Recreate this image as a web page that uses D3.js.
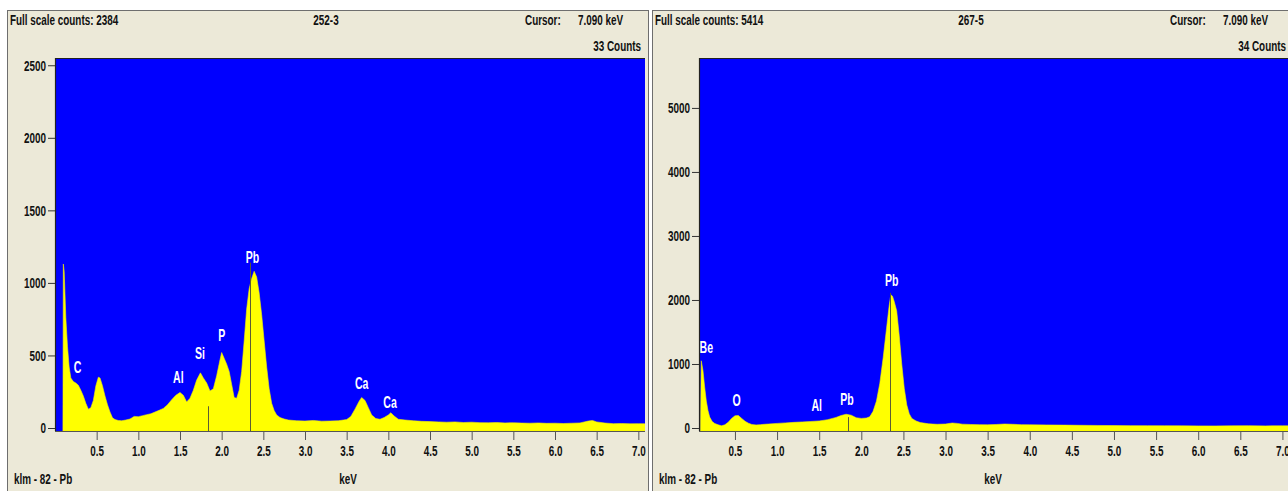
<!DOCTYPE html>
<html>
<head>
<meta charset="utf-8">
<script src="https://cdn.jsdelivr.net/npm/d3@7/dist/d3.min.js"></script>
<style>
  body { margin: 0; background: #fff; }
  svg text { font-family: "Liberation Sans", Arial, sans-serif; font-weight: bold; }
</style>
</head>
<body>
<svg id="chart" width="1288" height="491"></svg>
<script>
// ---- data ----
// left spectrum 252-3 : [keV, counts]
var spec252 = [
  [0.095, 0], [0.10, 1130], [0.11, 1080], [0.13, 760], [0.15, 560], [0.17, 420], [0.19, 345],
  [0.22, 320], [0.25, 310], [0.28, 295], [0.31, 260], [0.34, 220], [0.37, 170], [0.40, 130],
  [0.43, 140], [0.46, 190], [0.49, 290], [0.52, 350], [0.54, 345], [0.57, 290], [0.60, 220],
  [0.63, 160], [0.66, 110], [0.69, 70], [0.72, 58], [0.76, 52], [0.80, 50], [0.85, 55],
  [0.90, 62], [0.95, 80], [1.00, 78], [1.05, 85], [1.10, 92], [1.15, 98], [1.20, 110],
  [1.25, 122], [1.30, 135], [1.35, 160], [1.40, 195], [1.45, 225], [1.50, 245], [1.54, 225],
  [1.58, 180], [1.62, 205], [1.66, 260], [1.70, 330], [1.745, 380], [1.78, 345], [1.82, 310],
  [1.86, 255], [1.90, 270], [1.94, 360], [1.98, 470], [2.00, 520], [2.03, 480], [2.06, 440],
  [2.09, 390], [2.12, 300], [2.15, 210], [2.18, 205], [2.21, 260], [2.24, 390], [2.27, 600],
  [2.30, 820], [2.33, 960], [2.36, 1030], [2.39, 1080], [2.42, 1040], [2.45, 930], [2.48, 780],
  [2.51, 600], [2.54, 420], [2.57, 270], [2.60, 170], [2.63, 120], [2.66, 90], [2.70, 72],
  [2.75, 62], [2.80, 55], [2.90, 50], [3.00, 48], [3.10, 52], [3.20, 47], [3.30, 48],
  [3.40, 50], [3.50, 58], [3.55, 80], [3.60, 130], [3.65, 185], [3.68, 210], [3.72, 190],
  [3.76, 140], [3.80, 90], [3.85, 65], [3.90, 60], [3.95, 72], [4.00, 90], [4.03, 105],
  [4.07, 82], [4.12, 60], [4.20, 55], [4.30, 50], [4.40, 46], [4.50, 44], [4.60, 42],
  [4.70, 40], [4.80, 42], [4.90, 38], [5.00, 40], [5.10, 37], [5.20, 36], [5.30, 38],
  [5.40, 35], [5.50, 36], [5.60, 34], [5.70, 33], [5.80, 35], [5.90, 32], [6.00, 33],
  [6.10, 31], [6.20, 33], [6.30, 35], [6.40, 48], [6.45, 52], [6.50, 42], [6.60, 34],
  [6.70, 30], [6.80, 31], [6.90, 29], [7.00, 30], [7.09, 29]
];
// right spectrum 267-5 : [keV, counts]
var spec267 = [
  [0.09, 0], [0.10, 1050], [0.12, 900], [0.14, 640], [0.16, 420], [0.18, 270], [0.20, 170],
  [0.23, 100], [0.26, 70], [0.30, 50], [0.34, 35], [0.38, 50], [0.42, 90], [0.46, 150],
  [0.50, 190], [0.54, 195], [0.58, 150], [0.62, 105], [0.66, 75], [0.70, 55], [0.75, 48],
  [0.80, 52], [0.85, 58], [0.90, 62], [1.00, 72], [1.10, 80], [1.20, 88], [1.30, 95],
  [1.40, 102], [1.50, 110], [1.60, 130], [1.70, 165], [1.76, 195], [1.82, 215], [1.88, 200],
  [1.94, 160], [2.00, 150], [2.06, 155], [2.10, 175], [2.14, 260], [2.18, 420], [2.22, 700],
  [2.26, 1100], [2.30, 1560], [2.33, 1900], [2.35, 2080], [2.37, 2060], [2.39, 1980],
  [2.42, 1830], [2.45, 1450], [2.48, 1000], [2.51, 620], [2.54, 360], [2.57, 220], [2.60, 150],
  [2.65, 110], [2.70, 85], [2.80, 65], [2.90, 58], [3.00, 62], [3.08, 78], [3.14, 72],
  [3.20, 60], [3.30, 55], [3.40, 52], [3.50, 50], [3.60, 55], [3.70, 62], [3.80, 58],
  [3.90, 52], [4.00, 50], [4.20, 48], [4.40, 45], [4.60, 42], [4.80, 40], [5.00, 38],
  [5.20, 37], [5.40, 36], [5.60, 35], [5.80, 34], [6.00, 33], [6.20, 32], [6.40, 34],
  [6.60, 36], [6.80, 33], [7.00, 34], [7.10, 33]
];

// element labels: name, keV, counts (label baseline)
var peaks252 = [
  ["C", 0.27, 379], ["Al", 1.48, 310], ["Si", 1.74, 476], ["P", 2.00, 600],
  ["Pb", 2.37, 1137], ["Ca", 3.68, 269], ["Ca", 4.02, 138]
];
var peaks267 = [
  ["Be", 0.16, 1170], ["O", 0.52, 344], ["Al", 1.47, 265], ["Pb", 1.83, 359], ["Pb", 2.36, 2224]
];
// marker lines: keV, top counts
var markers252 = [[1.84, 150], [2.342, 1140]];
var markers267 = [[1.84, 170], [2.342, 2110]];

var xTicks = [0.5, 1.0, 1.5, 2.0, 2.5, 3.0, 3.5, 4.0, 4.5, 5.0, 5.5, 6.0, 6.5, 7.0];
var yTicks252 = [0, 500, 1000, 1500, 2000, 2500];
var yTicks267 = [0, 1000, 2000, 3000, 4000, 5000];

var SX = 0.66; // narrow font look
var svg = d3.select("#chart");

function drawPanel(p) {
  var g = svg.append("g");

  // panel frame
  g.append("rect")
    .attr("x", p.left + 0.5).attr("y", 10.5)
    .attr("width", p.width).attr("height", 500)
    .attr("fill", "#ece9d8")
    .attr("stroke", "#6e6e6e");

  var x = d3.scaleLinear().domain(p.xDomain).range([p.plotL, p.plotR]);
  var y = d3.scaleLinear().domain([0, p.yMax]).range([428, 58]);

  var clipId = "clip" + p.id;
  g.append("clipPath").attr("id", clipId)
    .append("rect")
    .attr("x", p.plotL).attr("y", 58)
    .attr("width", p.plotR - p.plotL).attr("height", 373);

  g.append("rect")
    .attr("x", p.plotL).attr("y", 58)
    .attr("width", p.plotR - p.plotL).attr("height", 373)
    .attr("fill", "#0000ff");

  var area = d3.area()
    .x(function(d) { return x(d[0]); })
    .y0(431)
    .y1(function(d) { return y(d[1]); });

  var plot = g.append("g").attr("clip-path", "url(#" + clipId + ")");
  plot.append("path")
    .datum(p.spec)
    .attr("d", area)
    .attr("fill", "#ffff00")
    .attr("stroke", "#f2f200")
    .attr("stroke-width", 0.6);

  plot.selectAll("line.marker")
    .data(p.markers)
    .enter().append("line")
    .attr("class", "marker")
    .attr("x1", function(d) { return Math.round(x(d[0])) + 0.5; })
    .attr("x2", function(d) { return Math.round(x(d[0])) + 0.5; })
    .attr("y1", function(d) { return y(d[1]); })
    .attr("y2", 431)
    .attr("stroke", "#5c5c34")
    .attr("stroke-width", 1);

  plot.selectAll("text.peak")
    .data(p.peaks)
    .enter().append("text")
    .attr("class", "peak")
    .attr("transform", function(d) {
      return "translate(" + x(d[1]) + "," + y(d[2]) + ")scale(" + SX + ",1)";
    })
    .attr("text-anchor", "middle")
    .attr("fill", "#ffffff")
    .style("font-size", "16px")
    .text(function(d) { return d[0]; });

  // plot border: dark on top/left
  g.append("path")
    .attr("d", "M" + (p.plotL + 0.5) + ",431 V58.5 H" + p.plotR)
    .attr("fill", "none").attr("stroke", "#222").attr("stroke-width", 1.2);
  g.append("path")
    .attr("d", "M" + (p.plotL) + ",431.5 H" + p.plotR)
    .attr("fill", "none").attr("stroke", "#555");

  // axes
  var yAxis = d3.axisLeft(y).tickValues(p.yTicks).tickSize(7).tickPadding(2).tickFormat(d3.format("d"));
  var ya = g.append("g").attr("transform", "translate(" + p.plotL + ",0)").call(yAxis);
  ya.select(".domain").remove();
  ya.selectAll("line").attr("stroke", "#333");
  ya.selectAll("text")
    .attr("x", -9 / SX)
    .attr("transform", "scale(" + SX + ",1)")
    .attr("fill", "#111").style("font-size", "15px");

  var xAxis = d3.axisBottom(x).tickValues(xTicks).tickSize(9).tickPadding(5).tickFormat(d3.format(".1f"));
  var xa = g.append("g").attr("transform", "translate(0,431)").call(xAxis);
  xa.select(".domain").remove();
  xa.selectAll("line").attr("stroke", "#555");
  xa.selectAll("text")
    .attr("transform", "scale(" + SX + ",1)")
    .attr("fill", "#111").style("font-size", "15px");

  // header and footer text
  var t = [
    [p.left + 3, 25, "start", "Full scale counts: " + p.fullScale],
    [p.titleX, 25, "middle", p.title],
    [p.left + 518, 25, "start", "Cursor:"],
    [p.left + 571, 25, "start", "7.090 keV"],
    [p.left + 634, 51, "end", p.cursorCounts + " Counts"],
    [p.left + 7, 484, "start", "klm - 82 - Pb"],
    [p.left + 341, 484, "middle", "keV"]
  ];
  g.selectAll("text.lbl")
    .data(t)
    .enter().append("text")
    .attr("class", "lbl")
    .attr("transform", function(d) { return "translate(" + d[0] + "," + d[1] + ")scale(" + SX + ",1)"; })
    .attr("text-anchor", function(d) { return d[2]; })
    .attr("fill", "#111")
    .style("font-size", "15px")
    .text(function(d) { return d[3]; });
}

drawPanel({
  id: "a", left: 7, width: 641, plotL: 55, plotR: 645, xDomain: [0, 7.08], yMax: 2550,
  spec: spec252, peaks: peaks252, markers: markers252, yTicks: yTicks252,
  fullScale: 2384, title: "252-3", titleX: 326, cursorCounts: 33
});
drawPanel({
  id: "b", left: 652, width: 660, plotL: 699, plotR: 1290, xDomain: [0.073, 7.09], yMax: 5780,
  spec: spec267, peaks: peaks267, markers: markers267, yTicks: yTicks267,
  fullScale: 5414, title: "267-5", titleX: 971, cursorCounts: 34
});
</script>
</body>
</html>
